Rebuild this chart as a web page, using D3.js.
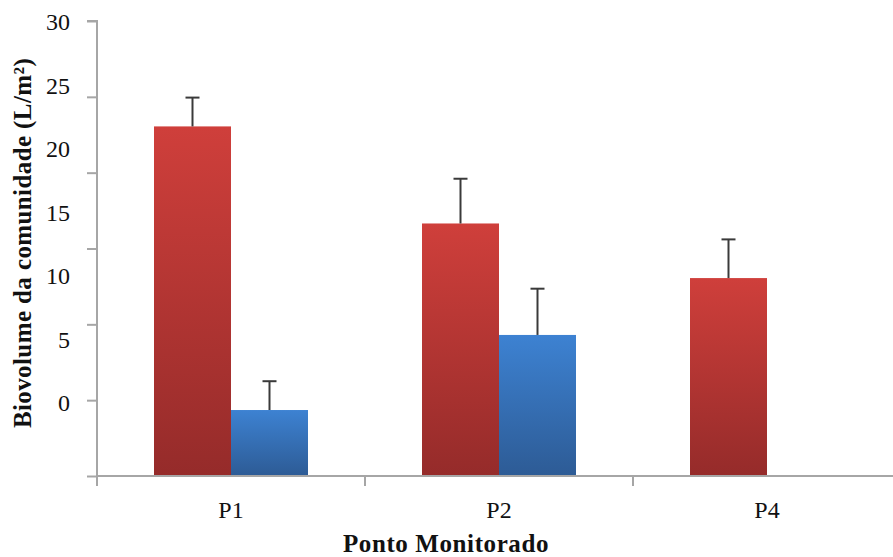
<!DOCTYPE html>
<html lang="pt">
<head>
<meta charset="UTF-8">
<title>Biovolume da comunidade</title>
<script src="https://cdnjs.cloudflare.com/ajax/libs/d3/7.8.5/d3.min.js"></script>
<style>
    body { margin: 0; background: #fff; }
    svg { display: block; font-family: 'Liberation Serif', 'Times New Roman', serif; }
    .tick-label { font-size: 24px; fill: #111; }
    .axis-title { font-size: 25px; font-weight: bold; fill: #111; }
</style>
</head>
<body>
<div id="chart"></div>
<script>
// data
const categories = ['P1', 'P2', 'P4'];
const seriesRed = [23.05, 16.65, 13.05];
const seriesRedErr = [1.9, 2.95, 2.55];
const seriesBlue = [4.35, 9.3, null];
const seriesBlueErr = [1.9, 3.05, null];
const yTicks = [0, 5, 10, 15, 20, 25, 30];
const yTickLabels = ['0', '5', '10', '15', '20', '25', '30'];

const W = 893, H = 557;
const margin = {top: 21, right: -8, bottom: 81, left: 97};
const plotW = W - margin.left - margin.right;
const plotH = H - margin.top - margin.bottom;

const svg = d3.select('#chart').append('svg')
    .attr('width', W).attr('height', H);

const defs = svg.append('defs');
function grad(id, top, bottom) {
    const g = defs.append('linearGradient').attr('id', id)
        .attr('x1', 0).attr('y1', 0).attr('x2', 0).attr('y2', 1);
    g.append('stop').attr('offset', '0%').attr('stop-color', top);
    g.append('stop').attr('offset', '100%').attr('stop-color', bottom);
}
grad('gRed', '#cf3f3b', '#952b2a');
grad('gBlue', '#3d82d2', '#2d5b95');

const g = svg.append('g').attr('transform', `translate(${margin.left},${margin.top})`);

const x = d3.scaleBand().domain(categories).range([0, plotW]).paddingInner(0).paddingOuter(0);
const y = d3.scaleLinear().domain([0, 30]).range([plotH, 0]);
// tick labels sit on their own (compressed) spacing in the original
const yLab = d3.scalePoint().domain(yTickLabels).range([382, 1]);

const barW = 77;
const groups = categories.map((c, i) => ({
    cat: c,
    bars: [
        {v: seriesRed[i], e: seriesRedErr[i], fill: 'url(#gRed)', off: -barW},
        {v: seriesBlue[i], e: seriesBlueErr[i], fill: 'url(#gBlue)', off: 0}
    ].filter(b => b.v !== null)
}));

const grp = g.selectAll('.grp').data(groups).enter().append('g')
    .attr('transform', d => `translate(${x(d.cat) + x.bandwidth() / 2},0)`);

grp.selectAll('rect').data(d => d.bars).enter().append('rect')
    .attr('x', d => d.off)
    .attr('width', barW)
    .attr('y', d => y(d.v))
    .attr('height', d => y(0) - y(d.v))
    .attr('fill', d => d.fill);

const err = grp.selectAll('.err').data(d => d.bars).enter().append('g')
    .attr('class', 'err')
    .attr('stroke', '#3a3a3a').attr('stroke-width', 2);
err.append('line')
    .attr('x1', d => d.off + barW / 2).attr('x2', d => d.off + barW / 2)
    .attr('y1', d => y(d.v)).attr('y2', d => y(d.v + d.e));
err.append('line')
    .attr('x1', d => d.off + barW / 2 - 7).attr('x2', d => d.off + barW / 2 + 7)
    .attr('y1', d => y(d.v + d.e)).attr('y2', d => y(d.v + d.e));

// y axis
const yAxis = g.append('g')
    .call(d3.axisLeft(y).tickValues(yTicks).tickSize(10).tickFormat(''));
yAxis.select('.domain').attr('stroke', '#a6a6a6').attr('stroke-width', 2).attr('d', `M-10,0H0V${plotH}`);
yAxis.selectAll('.tick line').attr('stroke', '#a6a6a6').attr('stroke-width', 2);

g.selectAll('.ylab').data(yTickLabels).enter().append('text')
    .attr('class', 'tick-label')
    .attr('x', -27).attr('y', d => yLab(d) + 8)
    .attr('text-anchor', 'end')
    .text(d => d);

// x axis
const xAxis = g.append('g').attr('transform', `translate(0,${plotH})`)
    .call(d3.axisBottom(x).tickSize(0).tickFormat(''));
xAxis.select('.domain').attr('stroke', '#a6a6a6').attr('stroke-width', 2).attr('d', `M0,0H${plotW}`);
xAxis.selectAll('.xt').data(categories).enter().append('line')
    .attr('x1', d => x(d)).attr('x2', d => x(d))
    .attr('y1', 0).attr('y2', 10)
    .attr('stroke', '#a6a6a6').attr('stroke-width', 2);

g.selectAll('.xlab').data(categories).enter().append('text')
    .attr('class', 'tick-label')
    .attr('x', d => x(d) + x.bandwidth() / 2)
    .attr('y', plotH + 42)
    .attr('text-anchor', 'middle')
    .text(d => d);

svg.append('text').attr('class', 'axis-title')
    .attr('x', 446).attr('y', 552)
    .attr('text-anchor', 'middle')
    .style('letter-spacing', '0.6px')
    .text('Ponto Monitorado');

svg.append('text').attr('class', 'axis-title')
    .attr('transform', 'translate(31,243) rotate(-90)')
    .attr('text-anchor', 'middle')
    .style('letter-spacing', '0.4px')
    .text('Biovolume da comunidade (L/m²)');
</script>
</body>
</html>
